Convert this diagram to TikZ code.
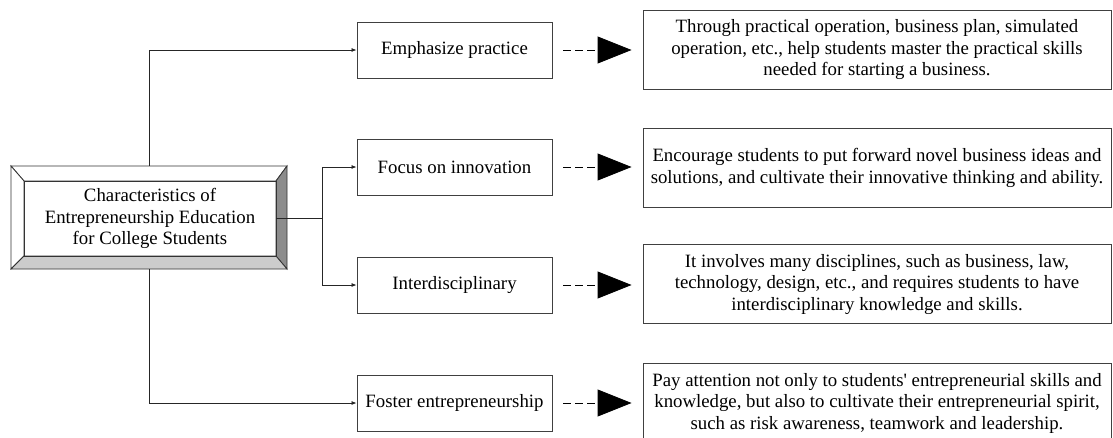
\documentclass[tikz,border=0pt]{standalone}
\usepackage{fontspec}
\setmainfont{Liberation Serif}
\usetikzlibrary{arrows.meta}
\definecolor{bevelR}{gray}{0.55}
\definecolor{bevelB}{gray}{0.8}
\tikzset{
 feat/.style={draw=black!75, line width=0.9pt, minimum width=195pt, minimum height=56pt, inner sep=0pt},
 note/.style={draw=black!75, line width=0.9pt, minimum width=468pt, minimum height=79pt, align=center, inner sep=0pt},
 link/.style={draw=black!85, line width=0.8pt, -{Latex[length=5pt,width=4pt]}},
 lead/.style={dash pattern=on 8pt off 4pt, line width=0.9pt, shorten <=11pt, shorten >=11pt, -{Triangle[length=34pt,width=27pt]}}
}

\begin{document}
\begin{tikzpicture}[x=1pt,y=-1pt,font=\fontsize{18.8}{21.5}\selectfont]
\useasboundingbox (0,0) rectangle (1113,437);
\fill[white] (0,0) rectangle (1113,437);
\filldraw[fill=white, draw=black!80, line width=0.8pt] (11,166) -- (287,166) -- (276,181) -- (24,181) -- cycle;
\filldraw[fill=white, draw=black!80, line width=0.8pt] (11,166) -- (24,181) -- (24,256) -- (11,269) -- cycle;
\filldraw[fill=bevelR, draw=black!80, line width=0.8pt] (287,166) -- (287,269) -- (276,256) -- (276,181) -- cycle;
\filldraw[fill=bevelB, draw=black!80, line width=0.8pt] (11,269) -- (287,269) -- (276,256) -- (24,256) -- cycle;
\node[draw=black!80, line width=0.8pt, minimum width=252pt, minimum height=75pt, align=center, inner sep=0pt] (core) at (150,218.5) {Characteristics of\\Entrepreneurship Education\\for College Students};
\node[minimum width=276pt, minimum height=103pt, inner sep=0pt] (frame) at (149,217.5) {};
\node[feat] (emph) at (454.5,50) {Emphasize practice};
\node[feat] (focus) at (454.5,167) {Focus on innovation};
\node[feat] (inter) at (454.5,285) {Interdisciplinary};
\node[feat] (fost) at (454.5,403) {Foster entrepreneurship};
\node[note] (emphtxt) at (877,50) {Through practical operation, business plan, simulated\\operation, etc., help students master the practical skills\\needed for starting a business.};
\node[note] (focustxt) at (877,168) {Encourage students to put forward novel business ideas and\\solutions, and cultivate their innovative thinking and ability.};
\node[note] (intertxt) at (877,284) {It involves many disciplines, such as business, law,\\technology, design, etc., and requires students to have\\interdisciplinary knowledge and skills.};
\node[note] (fosttxt) at (877,403) {Pay attention not only to students\textquotesingle\ entrepreneurial skills and\\knowledge, but also to cultivate their entrepreneurial spirit,\\such as risk awareness, teamwork and leadership.};
\draw[link] (frame.north) |- (emph.west);
\draw[link] (frame.south) |- (fost.west);
\draw[draw=black!85, line width=0.8pt] (core.east) -- ++(46,0) coordinate (split);
\draw[link] (split) |- (focus.west);
\draw[link] (split) |- (inter.west);
\draw[lead] (emph.east) -- (emph.east -| emphtxt.west);
\draw[lead] (focus.east) -- (focus.east -| focustxt.west);
\draw[lead] (inter.east) -- (inter.east -| intertxt.west);
\draw[lead] (fost.east) -- (fost.east -| fosttxt.west);
\end{tikzpicture}
\end{document}
